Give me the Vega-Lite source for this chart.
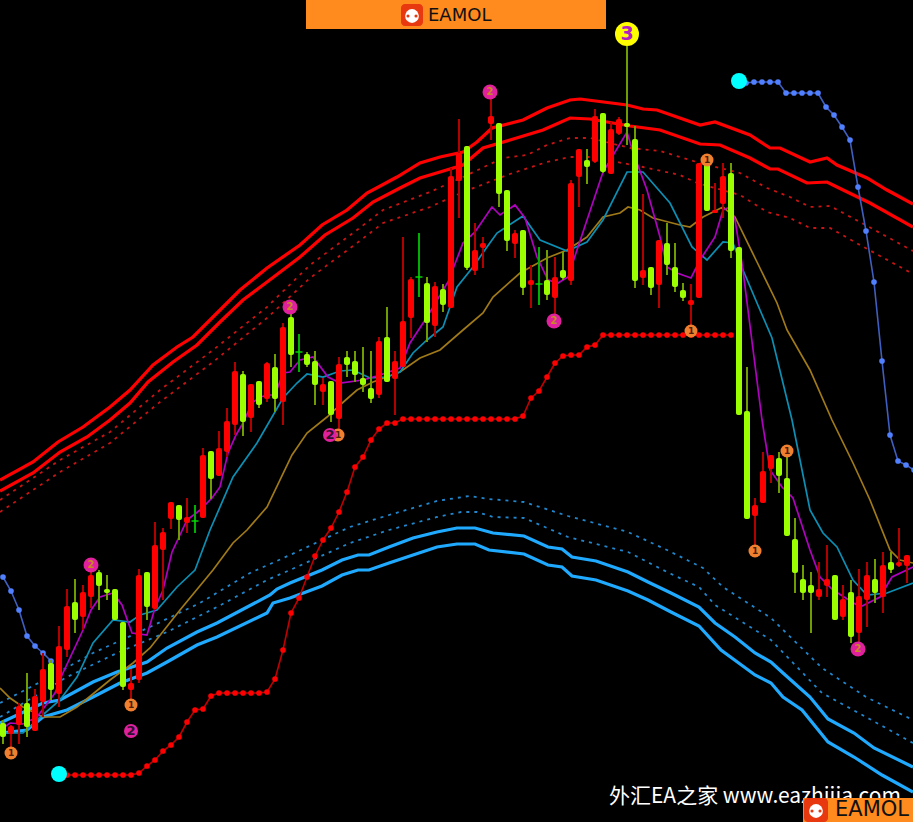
{
"$schema":"https://vega.github.io/schema/vega-lite/v6.json",
"width":913,"height":822,"padding":0,
"autosize":{"type":"none"},
"background":"#000000",
"config":{"view":{"stroke":null}},
"encoding":{
"x":{"field":"t","type":"quantitative","axis":null,"scale":{"domain":[0,913],"nice":false,"zero":false,"padding":0}},
"y":{"field":"p","type":"quantitative","axis":null,"scale":{"domain":[0,822],"nice":false,"zero":false,"padding":0}}
},
"datasets":{
"candles":[
{"t":3,"o":99,"c":85,"h":102,"l":78},{"t":11,"o":88,"c":96,"h":97,"l":72},{"t":19,"o":97,"c":116,"h":119,"l":78},{"t":27,"o":119,"c":95,"h":149,"l":85},{"t":35,"o":91,"c":126,"h":133,"l":91},{"t":43,"o":120,"c":153,"h":169,"l":105},{"t":51,"o":159,"c":132,"h":162,"l":122},{"t":59,"o":128,"c":176,"h":196,"l":115},{"t":67,"o":172,"c":216,"h":233,"l":165},{"t":75,"o":220,"c":202,"h":243,"l":189},
{"t":83,"o":205,"c":230,"h":237,"l":192},{"t":91,"o":225,"c":247,"h":259,"l":214},{"t":99,"o":250,"c":236,"h":252,"l":212},{"t":107,"o":233,"c":229,"h":247,"l":222},{"t":115,"o":233,"c":202,"h":233,"l":202},{"t":123,"o":200,"c":135,"h":200,"l":132},{"t":131,"o":132,"c":139,"h":153,"l":120},{"t":139,"o":142,"c":247,"h":253,"l":139},{"t":147,"o":250,"c":215,"h":250,"l":202},{"t":155,"o":213,"c":277,"h":300,"l":212},
{"t":163,"o":272,"c":290,"h":294,"l":222},{"t":171,"o":303,"c":320,"h":320,"l":293},{"t":179,"o":317,"c":302,"h":317,"l":282},{"t":187,"o":299,"c":305,"h":324,"l":289},{"t":195,"o":301,"c":301,"h":317,"l":289},{"t":203,"o":304,"c":367,"h":374,"l":304},{"t":211,"o":371,"c":343,"h":371,"l":323},{"t":219,"o":346,"c":374,"h":391,"l":346},{"t":227,"o":370,"c":401,"h":414,"l":365},{"t":235,"o":397,"c":451,"h":460,"l":387},
{"t":243,"o":448,"c":400,"h":451,"l":386},{"t":251,"o":404,"c":438,"h":438,"l":390},{"t":259,"o":441,"c":417,"h":441,"l":414},{"t":267,"o":423,"c":459,"h":460,"l":420},{"t":275,"o":455,"c":423,"h":468,"l":410},{"t":283,"o":420,"c":495,"h":499,"l":397},{"t":291,"o":505,"c":467,"h":512,"l":455},{"t":299,"o":470,"c":470,"h":488,"l":450},{"t":307,"o":468,"c":457,"h":470,"l":455},{"t":315,"o":461,"c":437,"h":471,"l":417},
{"t":323,"o":430,"c":438,"h":444,"l":417},{"t":331,"o":441,"c":407,"h":441,"l":400},{"t":339,"o":403,"c":458,"h":465,"l":392},{"t":347,"o":465,"c":457,"h":471,"l":445},{"t":355,"o":461,"c":447,"h":471,"l":440},{"t":363,"o":444,"c":437,"h":475,"l":430},{"t":371,"o":434,"c":423,"h":471,"l":419},{"t":379,"o":427,"c":481,"h":485,"l":424},{"t":387,"o":485,"c":440,"h":515,"l":440},{"t":395,"o":443,"c":461,"h":471,"l":407},
{"t":403,"o":455,"c":501,"h":585,"l":455},{"t":411,"o":504,"c":543,"h":545,"l":484},{"t":419,"o":545,"c":545,"h":589,"l":525},{"t":427,"o":539,"c":499,"h":545,"l":480},{"t":435,"o":496,"c":536,"h":540,"l":485},{"t":443,"o":533,"c":517,"h":538,"l":510},{"t":451,"o":514,"c":646,"h":654,"l":514},{"t":459,"o":641,"c":669,"h":703,"l":604},{"t":467,"o":676,"c":554,"h":676,"l":552},{"t":475,"o":551,"c":572,"h":599,"l":547},
{"t":483,"o":574,"c":579,"h":585,"l":554},{"t":491,"o":698,"c":706,"h":724,"l":682},{"t":499,"o":699,"c":628,"h":699,"l":615},{"t":507,"o":632,"c":581,"h":632,"l":571},{"t":515,"o":578,"c":589,"h":592,"l":564},{"t":523,"o":592,"c":534,"h":592,"l":527},{"t":531,"o":537,"c":542,"h":557,"l":514},{"t":539,"o":538,"c":538,"h":575,"l":517},{"t":547,"o":542,"c":527,"h":572,"l":522},{"t":555,"o":524,"c":545,"h":565,"l":507},
{"t":563,"o":552,"c":544,"h":570,"l":542},{"t":571,"o":541,"c":639,"h":642,"l":537},{"t":579,"o":645,"c":673,"h":673,"l":615},{"t":587,"o":662,"c":655,"h":673,"l":638},{"t":595,"o":660,"c":706,"h":713,"l":659},{"t":603,"o":709,"c":650,"h":709,"l":649},{"t":611,"o":648,"c":693,"h":700,"l":648},{"t":619,"o":688,"c":703,"h":705,"l":687},{"t":627,"o":699,"c":695,"h":776,"l":677},{"t":635,"o":683,"c":541,"h":696,"l":534},
{"t":643,"o":544,"c":552,"h":628,"l":537},{"t":651,"o":555,"c":534,"h":555,"l":527},{"t":659,"o":537,"c":582,"h":582,"l":514},{"t":667,"o":579,"c":557,"h":599,"l":547},{"t":675,"o":555,"c":535,"h":579,"l":530},{"t":683,"o":532,"c":524,"h":539,"l":521},{"t":691,"o":517,"c":522,"h":538,"l":492},{"t":699,"o":524,"c":659,"h":659,"l":524},{"t":707,"o":662,"c":611,"h":662,"l":611},{"t":715,"o":609,"c":612,"h":639,"l":609},
{"t":723,"o":618,"c":646,"h":659,"l":604},{"t":731,"o":649,"c":571,"h":659,"l":564},{"t":739,"o":575,"c":407,"h":575,"l":407},{"t":747,"o":411,"c":303,"h":455,"l":303},{"t":755,"o":306,"c":317,"h":324,"l":275},{"t":763,"o":319,"c":351,"h":370,"l":319},{"t":771,"o":353,"c":367,"h":367,"l":339},{"t":779,"o":364,"c":346,"h":370,"l":329},{"t":787,"o":344,"c":286,"h":367,"l":286},{"t":795,"o":283,"c":249,"h":304,"l":229},
{"t":803,"o":243,"c":229,"h":257,"l":222},{"t":811,"o":237,"c":229,"h":250,"l":189},{"t":819,"o":225,"c":233,"h":260,"l":222},{"t":827,"o":236,"c":243,"h":277,"l":225},{"t":835,"o":247,"c":202,"h":247,"l":202},{"t":843,"o":205,"c":223,"h":237,"l":202},{"t":851,"o":230,"c":185,"h":242,"l":179},{"t":859,"o":189,"c":226,"h":253,"l":175},{"t":867,"o":222,"c":247,"h":260,"l":195},{"t":875,"o":243,"c":229,"h":263,"l":219},
{"t":883,"o":225,"c":257,"h":270,"l":209},{"t":891,"o":260,"c":252,"h":270,"l":249},{"t":899,"o":256,"c":260,"h":294,"l":255},{"t":907,"o":256,"c":267,"h":267,"l":239}
],
"lines":[
{"s":"ro","t":0,"p":342},{"s":"ro","t":33,"p":360},{"s":"ro","t":58,"p":380},{"s":"ro","t":83,"p":395},{"s":"ro","t":110,"p":415},{"s":"ro","t":130,"p":432},{"s":"ro","t":153,"p":457},{"s":"ro","t":177,"p":475},{"s":"ro","t":193,"p":485},{"s":"ro","t":217,"p":509},{"s":"ro","t":240,"p":532},{"s":"ro","t":267,"p":554},{"s":"ro","t":300,"p":577},{"s":"ro","t":322,"p":597},{"s":"ro","t":347,"p":612},{"s":"ro","t":367,"p":629},{"s":"ro","t":397,"p":645},{"s":"ro","t":420,"p":659},{"s":"ro","t":440,"p":665},{"s":"ro","t":463,"p":670},{"s":"ro","t":477,"p":680},{"s":"ro","t":492,"p":694},{"s":"ro","t":523,"p":702},{"s":"ro","t":547,"p":714},{"s":"ro","t":570,"p":722},{"s":"ro","t":580,"p":723},{"s":"ro","t":627,"p":717},{"s":"ro","t":643,"p":713},{"s":"ro","t":657,"p":712},{"s":"ro","t":700,"p":697},{"s":"ro","t":715,"p":700},{"s":"ro","t":750,"p":687},{"s":"ro","t":770,"p":674},{"s":"ro","t":780,"p":674},{"s":"ro","t":810,"p":660},{"s":"ro","t":827,"p":664},{"s":"ro","t":837,"p":657},{"s":"ro","t":867,"p":644},{"s":"ro","t":887,"p":632},{"s":"ro","t":913,"p":618},
{"s":"ri","t":0,"p":331},{"s":"ri","t":33,"p":349},{"s":"ri","t":60,"p":370},{"s":"ri","t":87,"p":385},{"s":"ri","t":110,"p":402},{"s":"ri","t":130,"p":419},{"s":"ri","t":148,"p":440},{"s":"ri","t":173,"p":460},{"s":"ri","t":197,"p":477},{"s":"ri","t":220,"p":500},{"s":"ri","t":243,"p":522},{"s":"ri","t":267,"p":540},{"s":"ri","t":300,"p":565},{"s":"ri","t":325,"p":587},{"s":"ri","t":353,"p":604},{"s":"ri","t":373,"p":620},{"s":"ri","t":400,"p":634},{"s":"ri","t":420,"p":644},{"s":"ri","t":440,"p":650},{"s":"ri","t":463,"p":657},{"s":"ri","t":483,"p":674},{"s":"ri","t":510,"p":682},{"s":"ri","t":543,"p":692},{"s":"ri","t":570,"p":704},{"s":"ri","t":590,"p":703},{"s":"ri","t":630,"p":696},{"s":"ri","t":660,"p":692},{"s":"ri","t":700,"p":678},{"s":"ri","t":720,"p":677},{"s":"ri","t":750,"p":664},{"s":"ri","t":770,"p":653},{"s":"ri","t":778,"p":653},{"s":"ri","t":807,"p":639},{"s":"ri","t":827,"p":640},{"s":"ri","t":837,"p":635},{"s":"ri","t":870,"p":619},{"s":"ri","t":913,"p":595},
{"s":"rd1","t":0,"p":322},{"s":"rd1","t":60,"p":362},{"s":"rd1","t":110,"p":390},{"s":"rd1","t":160,"p":432},{"s":"rd1","t":213,"p":472},{"s":"rd1","t":267,"p":515},{"s":"rd1","t":310,"p":557},{"s":"rd1","t":357,"p":592},{"s":"rd1","t":383,"p":612},{"s":"rd1","t":430,"p":630},{"s":"rd1","t":463,"p":645},{"s":"rd1","t":503,"p":664},{"s":"rd1","t":527,"p":667},{"s":"rd1","t":547,"p":677},{"s":"rd1","t":570,"p":684},{"s":"rd1","t":590,"p":684},{"s":"rd1","t":630,"p":674},{"s":"rd1","t":660,"p":671},{"s":"rd1","t":700,"p":659},{"s":"rd1","t":740,"p":649},{"s":"rd1","t":767,"p":634},{"s":"rd1","t":790,"p":625},{"s":"rd1","t":810,"p":615},{"s":"rd1","t":830,"p":616},{"s":"rd1","t":860,"p":600},{"s":"rd1","t":913,"p":571},
{"s":"rd2","t":0,"p":310},{"s":"rd2","t":60,"p":350},{"s":"rd2","t":110,"p":379},{"s":"rd2","t":160,"p":420},{"s":"rd2","t":213,"p":460},{"s":"rd2","t":267,"p":504},{"s":"rd2","t":310,"p":544},{"s":"rd2","t":357,"p":579},{"s":"rd2","t":383,"p":599},{"s":"rd2","t":430,"p":615},{"s":"rd2","t":463,"p":630},{"s":"rd2","t":510,"p":648},{"s":"rd2","t":547,"p":660},{"s":"rd2","t":570,"p":665},{"s":"rd2","t":590,"p":665},{"s":"rd2","t":617,"p":660},{"s":"rd2","t":643,"p":655},{"s":"rd2","t":680,"p":647},{"s":"rd2","t":697,"p":639},{"s":"rd2","t":740,"p":627},{"s":"rd2","t":767,"p":610},{"s":"rd2","t":790,"p":604},{"s":"rd2","t":810,"p":594},{"s":"rd2","t":830,"p":594},{"s":"rd2","t":860,"p":577},{"s":"rd2","t":913,"p":548},
{"s":"bu","t":0,"p":99},{"s":"bu","t":43,"p":119},{"s":"bu","t":60,"p":122},{"s":"bu","t":93,"p":140},{"s":"bu","t":117,"p":150},{"s":"bu","t":147,"p":160},{"s":"bu","t":167,"p":174},{"s":"bu","t":197,"p":190},{"s":"bu","t":217,"p":199},{"s":"bu","t":270,"p":227},{"s":"bu","t":277,"p":233},{"s":"bu","t":290,"p":239},{"s":"bu","t":322,"p":252},{"s":"bu","t":342,"p":262},{"s":"bu","t":358,"p":267},{"s":"bu","t":369,"p":267},{"s":"bu","t":389,"p":275},{"s":"bu","t":413,"p":284},{"s":"bu","t":437,"p":290},{"s":"bu","t":457,"p":294},{"s":"bu","t":475,"p":294},{"s":"bu","t":493,"p":289},{"s":"bu","t":524,"p":286},{"s":"bu","t":548,"p":275},{"s":"bu","t":562,"p":273},{"s":"bu","t":572,"p":265},{"s":"bu","t":596,"p":261},{"s":"bu","t":628,"p":250},{"s":"bu","t":648,"p":240},{"s":"bu","t":671,"p":229},{"s":"bu","t":699,"p":215},{"s":"bu","t":715,"p":199},{"s":"bu","t":735,"p":185},{"s":"bu","t":755,"p":169},{"s":"bu","t":771,"p":160},{"s":"bu","t":783,"p":149},{"s":"bu","t":810,"p":125},{"s":"bu","t":828,"p":103},{"s":"bu","t":854,"p":89},{"s":"bu","t":874,"p":74},{"s":"bu","t":913,"p":55},
{"s":"bl","t":0,"p":89},{"s":"bl","t":27,"p":92},{"s":"bl","t":43,"p":105},{"s":"bl","t":67,"p":112},{"s":"bl","t":93,"p":125},{"s":"bl","t":120,"p":139},{"s":"bl","t":147,"p":149},{"s":"bl","t":167,"p":160},{"s":"bl","t":197,"p":177},{"s":"bl","t":217,"p":185},{"s":"bl","t":267,"p":209},{"s":"bl","t":273,"p":219},{"s":"bl","t":290,"p":224},{"s":"bl","t":322,"p":236},{"s":"bl","t":342,"p":247},{"s":"bl","t":358,"p":252},{"s":"bl","t":369,"p":252},{"s":"bl","t":389,"p":259},{"s":"bl","t":413,"p":267},{"s":"bl","t":437,"p":275},{"s":"bl","t":457,"p":278},{"s":"bl","t":475,"p":278},{"s":"bl","t":489,"p":272},{"s":"bl","t":524,"p":268},{"s":"bl","t":548,"p":257},{"s":"bl","t":562,"p":255},{"s":"bl","t":572,"p":246},{"s":"bl","t":596,"p":242},{"s":"bl","t":628,"p":231},{"s":"bl","t":648,"p":222},{"s":"bl","t":671,"p":210},{"s":"bl","t":699,"p":196},{"s":"bl","t":721,"p":172},{"s":"bl","t":755,"p":147},{"s":"bl","t":771,"p":139},{"s":"bl","t":783,"p":125},{"s":"bl","t":802,"p":112},{"s":"bl","t":828,"p":80},{"s":"bl","t":854,"p":65},{"s":"bl","t":882,"p":47},{"s":"bl","t":913,"p":30},
{"s":"bd1","t":0,"p":119},{"s":"bd1","t":50,"p":145},{"s":"bd1","t":93,"p":169},{"s":"bd1","t":150,"p":195},{"s":"bd1","t":200,"p":219},{"s":"bd1","t":250,"p":249},{"s":"bd1","t":290,"p":267},{"s":"bd1","t":350,"p":295},{"s":"bd1","t":389,"p":307},{"s":"bd1","t":437,"p":321},{"s":"bd1","t":469,"p":326},{"s":"bd1","t":489,"p":323},{"s":"bd1","t":524,"p":320},{"s":"bd1","t":568,"p":306},{"s":"bd1","t":628,"p":290},{"s":"bd1","t":667,"p":272},{"s":"bd1","t":703,"p":254},{"s":"bd1","t":723,"p":235},{"s":"bd1","t":771,"p":204},{"s":"bd1","t":822,"p":154},{"s":"bd1","t":866,"p":125},{"s":"bd1","t":913,"p":102},
{"s":"bd2","t":0,"p":105},{"s":"bd2","t":67,"p":145},{"s":"bd2","t":117,"p":169},{"s":"bd2","t":167,"p":190},{"s":"bd2","t":217,"p":215},{"s":"bd2","t":267,"p":242},{"s":"bd2","t":290,"p":252},{"s":"bd2","t":350,"p":279},{"s":"bd2","t":389,"p":292},{"s":"bd2","t":437,"p":305},{"s":"bd2","t":461,"p":310},{"s":"bd2","t":477,"p":310},{"s":"bd2","t":493,"p":305},{"s":"bd2","t":524,"p":304},{"s":"bd2","t":568,"p":285},{"s":"bd2","t":628,"p":270},{"s":"bd2","t":667,"p":250},{"s":"bd2","t":699,"p":235},{"s":"bd2","t":715,"p":217},{"s":"bd2","t":771,"p":182},{"s":"bd2","t":822,"p":129},{"s":"bd2","t":866,"p":105},{"s":"bd2","t":913,"p":79},
{"s":"mg","t":0,"p":92},{"s":"mg","t":10,"p":99},{"s":"mg","t":23,"p":98},{"s":"mg","t":37,"p":105},{"s":"mg","t":55,"p":129},{"s":"mg","t":62,"p":147},{"s":"mg","t":83,"p":192},{"s":"mg","t":91,"p":212},{"s":"mg","t":100,"p":225},{"s":"mg","t":113,"p":229},{"s":"mg","t":122,"p":217},{"s":"mg","t":132,"p":189},{"s":"mg","t":147,"p":187},{"s":"mg","t":155,"p":214},{"s":"mg","t":163,"p":232},{"s":"mg","t":172,"p":270},{"s":"mg","t":187,"p":302},{"s":"mg","t":200,"p":312},{"s":"mg","t":212,"p":324},{"s":"mg","t":220,"p":335},{"s":"mg","t":228,"p":369},{"s":"mg","t":236,"p":387},{"s":"mg","t":243,"p":399},{"s":"mg","t":252,"p":419},{"s":"mg","t":260,"p":425},{"s":"mg","t":268,"p":427},{"s":"mg","t":275,"p":427},{"s":"mg","t":283,"p":449},{"s":"mg","t":290,"p":450},{"s":"mg","t":300,"p":462},{"s":"mg","t":313,"p":465},{"s":"mg","t":328,"p":445},{"s":"mg","t":340,"p":439},{"s":"mg","t":363,"p":442},{"s":"mg","t":380,"p":447},{"s":"mg","t":400,"p":454},{"s":"mg","t":410,"p":479},{"s":"mg","t":427,"p":505},{"s":"mg","t":448,"p":540},{"s":"mg","t":463,"p":579},{"s":"mg","t":475,"p":590},{"s":"mg","t":492,"p":615},{"s":"mg","t":500,"p":607},{"s":"mg","t":515,"p":617},{"s":"mg","t":525,"p":604},{"s":"mg","t":537,"p":565},{"s":"mg","t":548,"p":542},{"s":"mg","t":558,"p":539},{"s":"mg","t":568,"p":545},{"s":"mg","t":603,"p":650},{"s":"mg","t":627,"p":690},{"s":"mg","t":633,"p":670},{"s":"mg","t":647,"p":632},{"s":"mg","t":660,"p":585},{"s":"mg","t":667,"p":555},{"s":"mg","t":677,"p":549},{"s":"mg","t":691,"p":544},{"s":"mg","t":700,"p":562},{"s":"mg","t":715,"p":585},{"s":"mg","t":723,"p":612},{"s":"mg","t":730,"p":615},{"s":"mg","t":735,"p":602},{"s":"mg","t":742,"p":559},{"s":"mg","t":762,"p":402},{"s":"mg","t":770,"p":352},{"s":"mg","t":782,"p":335},{"s":"mg","t":793,"p":324},{"s":"mg","t":810,"p":272},{"s":"mg","t":820,"p":245},{"s":"mg","t":833,"p":232},{"s":"mg","t":860,"p":215},{"s":"mg","t":880,"p":225},{"s":"mg","t":892,"p":245},{"s":"mg","t":913,"p":255},
{"s":"tl","t":0,"p":89},{"s":"tl","t":23,"p":89},{"s":"tl","t":37,"p":102},{"s":"tl","t":60,"p":122},{"s":"tl","t":77,"p":145},{"s":"tl","t":93,"p":179},{"s":"tl","t":113,"p":202},{"s":"tl","t":130,"p":200},{"s":"tl","t":140,"p":207},{"s":"tl","t":157,"p":212},{"s":"tl","t":177,"p":235},{"s":"tl","t":195,"p":252},{"s":"tl","t":210,"p":292},{"s":"tl","t":233,"p":345},{"s":"tl","t":257,"p":379},{"s":"tl","t":283,"p":424},{"s":"tl","t":297,"p":439},{"s":"tl","t":307,"p":448},{"s":"tl","t":323,"p":445},{"s":"tl","t":340,"p":451},{"s":"tl","t":353,"p":452},{"s":"tl","t":370,"p":444},{"s":"tl","t":387,"p":445},{"s":"tl","t":400,"p":450},{"s":"tl","t":413,"p":469},{"s":"tl","t":427,"p":482},{"s":"tl","t":443,"p":495},{"s":"tl","t":457,"p":535},{"s":"tl","t":473,"p":555},{"s":"tl","t":487,"p":575},{"s":"tl","t":497,"p":589},{"s":"tl","t":523,"p":606},{"s":"tl","t":540,"p":582},{"s":"tl","t":567,"p":571},{"s":"tl","t":587,"p":580},{"s":"tl","t":603,"p":602},{"s":"tl","t":627,"p":650},{"s":"tl","t":643,"p":650},{"s":"tl","t":670,"p":619},{"s":"tl","t":692,"p":575},{"s":"tl","t":707,"p":562},{"s":"tl","t":723,"p":580},{"s":"tl","t":733,"p":579},{"s":"tl","t":743,"p":552},{"s":"tl","t":757,"p":519},{"s":"tl","t":772,"p":484},{"s":"tl","t":792,"p":402},{"s":"tl","t":810,"p":312},{"s":"tl","t":823,"p":289},{"s":"tl","t":837,"p":275},{"s":"tl","t":853,"p":242},{"s":"tl","t":867,"p":227},{"s":"tl","t":887,"p":229},{"s":"tl","t":913,"p":239},
{"s":"gd","t":0,"p":134},{"s":"gd","t":10,"p":124},{"s":"gd","t":23,"p":115},{"s":"gd","t":43,"p":105},{"s":"gd","t":60,"p":105},{"s":"gd","t":77,"p":115},{"s":"gd","t":110,"p":142},{"s":"gd","t":133,"p":159},{"s":"gd","t":150,"p":174},{"s":"gd","t":180,"p":212},{"s":"gd","t":213,"p":252},{"s":"gd","t":233,"p":279},{"s":"gd","t":247,"p":292},{"s":"gd","t":267,"p":315},{"s":"gd","t":292,"p":367},{"s":"gd","t":307,"p":389},{"s":"gd","t":327,"p":405},{"s":"gd","t":340,"p":417},{"s":"gd","t":357,"p":432},{"s":"gd","t":373,"p":440},{"s":"gd","t":400,"p":450},{"s":"gd","t":420,"p":464},{"s":"gd","t":440,"p":472},{"s":"gd","t":463,"p":492},{"s":"gd","t":483,"p":509},{"s":"gd","t":493,"p":525},{"s":"gd","t":520,"p":549},{"s":"gd","t":547,"p":564},{"s":"gd","t":567,"p":572},{"s":"gd","t":587,"p":585},{"s":"gd","t":603,"p":605},{"s":"gd","t":620,"p":609},{"s":"gd","t":628,"p":615},{"s":"gd","t":640,"p":612},{"s":"gd","t":653,"p":604},{"s":"gd","t":680,"p":597},{"s":"gd","t":690,"p":595},{"s":"gd","t":703,"p":605},{"s":"gd","t":723,"p":615},{"s":"gd","t":735,"p":605},{"s":"gd","t":757,"p":560},{"s":"gd","t":777,"p":519},{"s":"gd","t":787,"p":492},{"s":"gd","t":810,"p":452},{"s":"gd","t":832,"p":402},{"s":"gd","t":853,"p":359},{"s":"gd","t":870,"p":322},{"s":"gd","t":890,"p":272},{"s":"gd","t":900,"p":262},{"s":"gd","t":913,"p":259}
],
"stepRed":[
{"t":59,"p":48},{"t":67,"p":47},{"t":75,"p":47},{"t":83,"p":47},{"t":91,"p":47},{"t":99,"p":47},{"t":107,"p":47},{"t":115,"p":47},{"t":123,"p":47},{"t":131,"p":47},{"t":139,"p":49},{"t":147,"p":56},{"t":155,"p":62},{"t":163,"p":71},{"t":171,"p":77},{"t":179,"p":85},{"t":187,"p":100},{"t":195,"p":112},{"t":203,"p":113},{"t":211,"p":126},{"t":219,"p":129},{"t":227,"p":129},{"t":235,"p":129},{"t":243,"p":129},{"t":251,"p":129},{"t":259,"p":129},{"t":267,"p":130},{"t":275,"p":143},{"t":283,"p":172},{"t":291,"p":209},{"t":299,"p":224},{"t":307,"p":245},{"t":315,"p":266},{"t":323,"p":282},{"t":331,"p":294},{"t":339,"p":310},{"t":347,"p":330},{"t":355,"p":355},{"t":363,"p":365},{"t":371,"p":382},{"t":379,"p":393},{"t":387,"p":399},{"t":395,"p":399},{"t":403,"p":403},{"t":411,"p":403},{"t":419,"p":403},{"t":427,"p":403},{"t":435,"p":403},{"t":443,"p":403},{"t":451,"p":403},{"t":459,"p":403},{"t":467,"p":403},{"t":475,"p":403},{"t":483,"p":403},{"t":491,"p":403},{"t":499,"p":403},{"t":507,"p":403},{"t":515,"p":403},{"t":523,"p":406},{"t":531,"p":424},{"t":539,"p":431},{"t":547,"p":445},{"t":555,"p":459},{"t":563,"p":466},{"t":571,"p":467},{"t":579,"p":467},{"t":587,"p":475},{"t":595,"p":477},{"t":603,"p":487},{"t":611,"p":487},{"t":619,"p":487},{"t":627,"p":487},{"t":635,"p":487},{"t":643,"p":487},{"t":651,"p":487},{"t":659,"p":487},{"t":667,"p":487},{"t":675,"p":487},{"t":683,"p":487},{"t":691,"p":487},{"t":699,"p":487},{"t":707,"p":487},{"t":715,"p":487},{"t":723,"p":487},{"t":731,"p":487}
],
"stepBlue":[
{"s":"a","t":3,"p":245},{"s":"a","t":11,"p":231},{"s":"a","t":19,"p":212},{"s":"a","t":27,"p":186},{"s":"a","t":35,"p":176},{"s":"a","t":43,"p":169},{"s":"a","t":51,"p":161},
{"s":"b","t":739,"p":741},{"s":"b","t":746,"p":739},{"s":"b","t":754,"p":740},{"s":"b","t":762,"p":740},{"s":"b","t":770,"p":740},{"s":"b","t":778,"p":740},{"s":"b","t":786,"p":729},{"s":"b","t":794,"p":729},{"s":"b","t":802,"p":729},{"s":"b","t":810,"p":729},{"s":"b","t":818,"p":729},{"s":"b","t":826,"p":715},{"s":"b","t":834,"p":707},{"s":"b","t":842,"p":695},{"s":"b","t":850,"p":682},{"s":"b","t":858,"p":635},{"s":"b","t":866,"p":591},{"s":"b","t":874,"p":540},{"s":"b","t":882,"p":461},{"s":"b","t":890,"p":387},{"s":"b","t":898,"p":361},{"s":"b","t":906,"p":357},{"s":"b","t":914,"p":352}
],
"markers":[
{"k":"o","t":11,"p":69,"n":"1"},{"k":"o","t":131,"p":117,"n":"1"},{"k":"o","t":338,"p":387,"n":"1"},{"k":"o","t":691,"p":491,"n":"1"},{"k":"o","t":707,"p":662,"n":"1"},{"k":"o","t":755,"p":271,"n":"1"},{"k":"o","t":787,"p":371,"n":"1"},
{"k":"q","t":91,"p":257,"n":"2"},{"k":"q","t":290,"p":515,"n":"2"},{"k":"q","t":490,"p":730,"n":"2"},{"k":"q","t":554,"p":501,"n":"2"},{"k":"q","t":858,"p":173,"n":"2"},
{"k":"d","t":131,"p":91,"n":"2"},{"k":"d","t":330,"p":387,"n":"2"},
{"k":"y","t":627,"p":788,"n":"3"},
{"k":"c","t":59,"p":48,"n":""},{"k":"c","t":739,"p":741,"n":""}
]
},
"layer":[
{"data":{"name":"lines"},"transform":[{"filter":{"field":"s","oneOf":["rd1","rd2"]}}],"mark":{"type":"line","strokeWidth":1.8,"strokeDash":[3,5],"color":"#c81414"},"encoding":{"detail":{"field":"s"}}},
{"data":{"name":"lines"},"transform":[{"filter":{"field":"s","oneOf":["bd1","bd2"]}}],"mark":{"type":"line","strokeWidth":1.8,"strokeDash":[3,5],"color":"#2186cc"},"encoding":{"detail":{"field":"s"}}},
{"data":{"name":"lines"},"transform":[{"filter":{"field":"s","oneOf":["ro","ri"]}}],"mark":{"type":"line","strokeWidth":3.2,"color":"#ff0000"},"encoding":{"detail":{"field":"s"}}},
{"data":{"name":"lines"},"transform":[{"filter":{"field":"s","oneOf":["bu","bl"]}}],"mark":{"type":"line","strokeWidth":3.2,"color":"#20aaff"},"encoding":{"detail":{"field":"s"}}},
{"data":{"name":"stepRed"},"mark":{"type":"line","strokeWidth":1.6,"color":"#c00000"},"encoding":{}},
{"data":{"name":"stepRed"},"mark":{"type":"point","filled":true,"opacity":1,"size":32,"color":"#ff0000"},"encoding":{}},
{"data":{"name":"stepBlue"},"mark":{"type":"line","strokeWidth":1.6,"color":"#3f5fc0"},"encoding":{"detail":{"field":"s"}}},
{"data":{"name":"stepBlue"},"mark":{"type":"point","filled":true,"opacity":1,"size":32,"color":"#5080ff"},"encoding":{}},
{"data":{"name":"lines"},"transform":[{"filter":{"field":"s","equal":"gd"}}],"mark":{"type":"line","strokeWidth":1.7,"color":"#a07a18"},"encoding":{}},
{"data":{"name":"lines"},"transform":[{"filter":{"field":"s","equal":"tl"}}],"mark":{"type":"line","strokeWidth":1.7,"color":"#0c8fb4"},"encoding":{}},
{"data":{"name":"lines"},"transform":[{"filter":{"field":"s","equal":"mg"}}],"mark":{"type":"line","strokeWidth":1.7,"color":"#b000c0"},"encoding":{}},
{"data":{"name":"candles"},"mark":{"type":"rule","strokeWidth":2},"encoding":{"y":{"field":"l","type":"quantitative"},"y2":{"field":"h"},"color":{"condition":[{"test":"datum.o==datum.c","value":"#00b000"},{"test":"datum.c>datum.o","value":"#b00000"}],"value":"#6f9c00"}}},
{"data":{"name":"candles"},"transform":[{"filter":"datum.o!=datum.c"}],"mark":{"type":"bar","size":6,"cornerRadius":2},"encoding":{"y":{"field":"o","type":"quantitative"},"y2":{"field":"c"},"color":{"condition":{"test":"datum.c>datum.o","value":"#ff0000"},"value":"#9cff00"}}},
{"data":{"name":"candles"},"transform":[{"filter":"datum.o==datum.c"}],"mark":{"type":"tick","orient":"horizontal","size":7,"thickness":2,"color":"#00e000"},"encoding":{"y":{"field":"c","type":"quantitative"}}},
{"data":{"name":"markers"},"mark":{"type":"point","filled":true,"opacity":1},"encoding":{
"color":{"field":"k","type":"nominal","legend":null,"scale":{"domain":["o","q","d","y","c"],"range":["#f08030","#e0209c","#e0209c","#ffff00","#00ffff"]}},
"size":{"field":"k","type":"nominal","legend":null,"scale":{"type":"ordinal","domain":["o","q","d","y","c"],"range":[169,225,196,576,256]}}}},
{"data":{"name":"markers"},"mark":{"type":"text","font":"DejaVu Sans","fontWeight":"bold","align":"center","baseline":"middle"},"encoding":{
"text":{"field":"n"},
"color":{"field":"k","type":"nominal","legend":null,"scale":{"domain":["o","q","d","y","c"],"range":["#4a2008","#c88a20","#301030","#b020c0","#00ffff"]}},
"size":{"field":"k","type":"nominal","legend":null,"scale":{"type":"ordinal","domain":["o","q","d","y","c"],"range":[9,10,13,19,9]}}}},
{"data":{"values":[{"t":609,"p":25,"x":"外汇EA之家 www.eazhijia.com"}]},"mark":{"type":"text","font":"Noto Sans CJK SC","fontSize":21,"color":"#ffffff","align":"left","baseline":"middle"},"encoding":{"text":{"field":"x"}}},
{"data":{"values":[{"t":306,"t2":606,"p":793,"p2":822},{"t":803,"t2":913,"p":0,"p2":24}]},"mark":{"type":"rect","color":"#ff8a1e"},"encoding":{"x2":{"field":"t2"},"y2":{"field":"p2"}}},
{"data":{"values":[{"t":401,"t2":423,"p":796,"p2":818},{"t":804,"t2":828,"p":0,"p2":24}]},"mark":{"type":"rect","color":"#e8380f","cornerRadius":4},"encoding":{"x2":{"field":"t2"},"y2":{"field":"p2"}}},
{"data":{"values":[{"t":412,"p":806},{"t":816,"p":11}]},"mark":{"type":"point","shape":"circle","filled":true,"opacity":1,"color":"#ffffff","size":190},"encoding":{}},
{"data":{"values":[{"t":408,"p":806},{"t":416,"p":806},{"t":812,"p":11},{"t":820,"p":11}]},"mark":{"type":"point","filled":true,"opacity":1,"color":"#e8380f","size":10},"encoding":{}},
{"data":{"values":[{"t":428,"p":806,"x":"EAMOL"}]},"mark":{"type":"text","font":"DejaVu Sans","fontSize":18,"color":"#111111","align":"left","baseline":"middle"},"encoding":{"text":{"field":"x"}}},
{"data":{"values":[{"t":835,"p":12,"x":"EAMOL"}]},"mark":{"type":"text","font":"DejaVu Sans","fontSize":21,"color":"#111111","align":"left","baseline":"middle"},"encoding":{"text":{"field":"x"}}}
],
"resolve":{"scale":{"color":"independent","size":"independent"}}
}
